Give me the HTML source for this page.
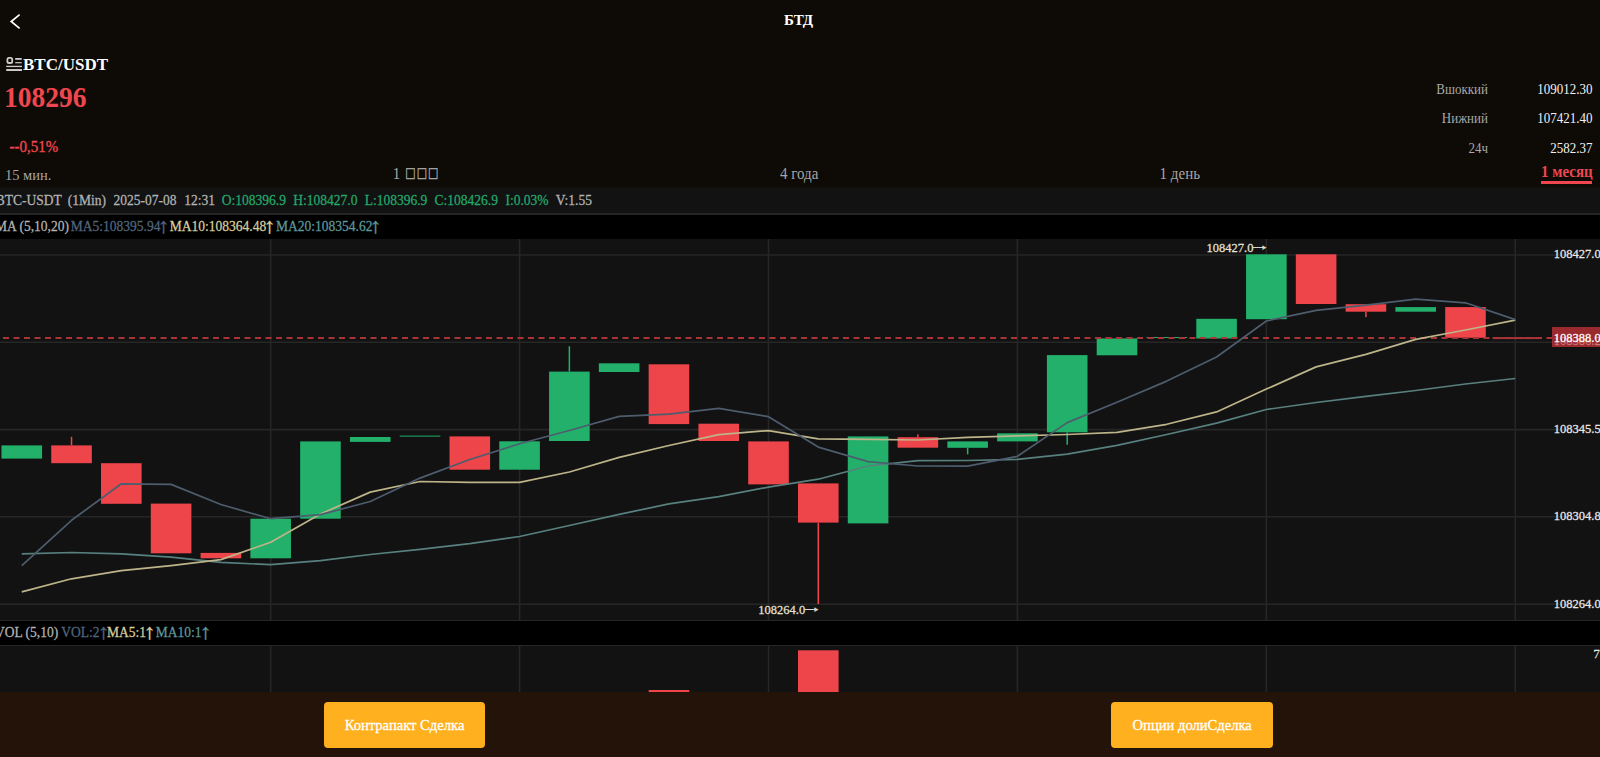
<!DOCTYPE html>
<html lang="ru">
<head>
<meta charset="utf-8">
<title>БТД</title>
<style>
html,body{margin:0;padding:0;}
body{width:1600px;height:757px;overflow:hidden;position:relative;background:#0e0a05;font-family:"Liberation Serif","Noto Serif CJK SC",serif;color:#fff;}
.a{position:absolute;white-space:pre;line-height:1;}
.ct{transform:scaleY(1.05);transform-origin:0 84%;-webkit-text-stroke:0.25px currentColor;}
.ct2{transform:scaleY(1.05);transform-origin:0 84%;}
.hdr{position:absolute;left:0;top:0;width:1600px;height:187px;background:#0e0a05;}
.chart{position:absolute;left:0;top:187px;width:1600px;height:505px;background:#121212;overflow:hidden;}
.info{position:absolute;left:0;top:187px;width:1600px;height:26px;background:#121212;}
.sep1{position:absolute;left:0;top:213px;width:1600px;height:2px;background:#252525;}
.marow{position:absolute;left:0;top:215px;width:1600px;height:24px;background:#000;}
.volrow{position:absolute;left:0;top:620.5px;width:1600px;height:24.5px;background:#000;}
.foot{position:absolute;left:0;top:692px;width:1600px;height:65px;background:#231309;}
.btn{position:absolute;top:702px;height:46px;background:#ffb01e;border-radius:4px;color:#fff;font-size:14.6px;line-height:46px;text-align:center;}
.bt{display:inline-block;line-height:1;transform:translateY(-0.7px) scaleY(1.07);-webkit-text-stroke:0.3px #fff;}
.g{color:#22a86a;}
.gr{color:#b3b3b3;}
.m5{color:#50667f;}
.m10{color:#d8cf9b;}
.m20{color:#5e9899;}
.lbl{color:#a8a8a8;font-size:13px;}
.val{color:#f2f2f2;font-size:13px;}
.tab{color:#a6a6a6;font-size:15px;}
.ax{color:#e8e8e8;font-size:12.5px;}
svg{position:absolute;left:0;top:0;}
.up{display:inline-block;transform:scale(1.75,1.5);}
.rt{display:inline-block;transform:translate(0.2px,-2px) scale(1.75,1.1);}
.tofu{position:absolute;font-size:13.7px;letter-spacing:3.2px;color:#a6a6a6;line-height:1;transform:scaleY(1.28);transform-origin:0 100%;white-space:pre;-webkit-text-stroke:0.35px #a6a6a6;}
</style>
</head>
<body>
<div class="hdr"></div>
<svg width="40" height="40" style="left:0;top:0"><polyline points="19.6,14.6 11.2,21.5 19.6,28.4" fill="none" stroke="#fff" stroke-width="1.7"/></svg>
<div class="a" style="left:784px;top:13.2px;font-size:15px;font-weight:bold;">БТД</div>

<svg width="24" height="20" style="left:0;top:52px">
<rect x="7.4" y="5.9" width="4.8" height="5.1" rx="1.6" fill="none" stroke="#cccccc" stroke-width="1.8"/>
<rect x="15.2" y="6" width="6.5" height="1.8" fill="#cccccc"/>
<rect x="15.2" y="10.1" width="6.5" height="1.2" fill="#cccccc"/>
<rect x="6.2" y="13.75" width="15.8" height="1.35" fill="#cccccc"/>
<rect x="6.2" y="17.05" width="15.8" height="1.95" fill="#cccccc"/>
</svg>
<div class="a" style="left:23px;top:56.3px;font-size:17px;font-weight:bold;">BTC/USDT</div>
<div class="a ct2" style="left:4px;top:84.3px;font-size:27.5px;font-weight:bold;color:#ef474f;">108296</div>
<div class="a ct2" style="left:9.5px;top:140.1px;font-size:15px;color:#ef474f;-webkit-text-stroke:0.3px #ef474f;">--0,51%</div>

<div class="a lbl ct2" style="right:112px;top:82.7px;">Вшоккий</div>
<div class="a val ct2" style="right:7.6px;top:82.7px;">109012.30</div>
<div class="a lbl ct2" style="right:112px;top:111.9px;">Нижний</div>
<div class="a val ct2" style="right:7.6px;top:111.9px;">107421.40</div>
<div class="a lbl ct2" style="right:112px;top:141.5px;">24ч</div>
<div class="a val ct2" style="right:7.6px;top:141.5px;">2582.37</div>

<div class="a tab ct2" style="left:4.9px;top:168.0px;font-size:14.5px;">15 мин.</div>
<div class="a tab ct2" style="left:392.8px;top:167.0px;">1</div>
<div class="tofu" style="left:406.2px;top:169.0px;">□□□</div>
<div class="a tab ct2" style="left:780px;top:167.0px;">4 года</div>
<div class="a tab ct2" style="left:1159.6px;top:167.0px;">1 день</div>
<div class="a ct2" style="left:1541px;top:165.4px;font-size:15px;font-weight:bold;color:#ef474f;">1 месяц</div>
<div class="a" style="left:1541.2px;top:181.2px;width:50.7px;height:3px;background:#ef474f;"></div>

<div class="chart"></div>
<div class="info"></div>
<div class="a" style="left:0;top:187px;width:1600px;height:1px;background:#100e0b;"></div>
<div class="sep1"></div>
<div class="marow"></div>

<svg width="1600" height="757" viewBox="0 0 1600 757">
<line x1="0" y1="255.0" x2="1600" y2="255.0" stroke="#262626" stroke-width="1.6"/>
<line x1="0" y1="342.3" x2="1600" y2="342.3" stroke="#262626" stroke-width="1.6"/>
<line x1="0" y1="429.6" x2="1600" y2="429.6" stroke="#262626" stroke-width="1.6"/>
<line x1="0" y1="516.8" x2="1600" y2="516.8" stroke="#262626" stroke-width="1.6"/>
<line x1="0" y1="604.2" x2="1600" y2="604.2" stroke="#262626" stroke-width="1.6"/>
<line x1="270.67" y1="239" x2="270.67" y2="620" stroke="#262626" stroke-width="1.6"/>
<line x1="519.59" y1="239" x2="519.59" y2="620" stroke="#262626" stroke-width="1.6"/>
<line x1="768.51" y1="239" x2="768.51" y2="620" stroke="#262626" stroke-width="1.6"/>
<line x1="1017.43" y1="239" x2="1017.43" y2="620" stroke="#262626" stroke-width="1.6"/>
<line x1="1266.35" y1="239" x2="1266.35" y2="620" stroke="#262626" stroke-width="1.6"/>
<line x1="1515.27" y1="239" x2="1515.27" y2="620" stroke="#262626" stroke-width="1.6"/>
<rect x="1.45" y="445.4" width="40.6" height="13.20" fill="#22b06b"/>
<rect x="70.78" y="436.8" width="1.5" height="8.60" fill="#ee454b"/>
<rect x="51.23" y="445.4" width="40.6" height="17.80" fill="#ee454b"/>
<rect x="101.02" y="463.2" width="40.6" height="40.60" fill="#ee454b"/>
<rect x="150.80" y="503.6" width="40.6" height="49.70" fill="#ee454b"/>
<rect x="200.59" y="552.9" width="40.6" height="5.40" fill="#ee454b"/>
<rect x="250.37" y="518.7" width="40.6" height="39.60" fill="#22b06b"/>
<rect x="300.15" y="441.4" width="40.6" height="77.30" fill="#22b06b"/>
<rect x="349.94" y="437.0" width="40.6" height="4.90" fill="#22b06b"/>
<rect x="399.72" y="435.6" width="40.6" height="1.00" fill="#22b06b"/>
<rect x="449.51" y="436.4" width="40.6" height="33.30" fill="#ee454b"/>
<rect x="499.29" y="441.3" width="40.6" height="28.40" fill="#22b06b"/>
<rect x="568.62" y="346.3" width="1.5" height="25.30" fill="#22b06b"/>
<rect x="549.07" y="371.6" width="40.6" height="69.40" fill="#22b06b"/>
<rect x="598.86" y="363.3" width="40.6" height="8.70" fill="#22b06b"/>
<rect x="648.64" y="364.3" width="40.6" height="59.80" fill="#ee454b"/>
<rect x="698.43" y="423.7" width="40.6" height="17.30" fill="#ee454b"/>
<rect x="748.21" y="441.4" width="40.6" height="43.00" fill="#ee454b"/>
<rect x="817.54" y="522.6" width="1.5" height="81.40" fill="#ee454b"/>
<rect x="797.99" y="483.4" width="40.6" height="39.20" fill="#ee454b"/>
<rect x="847.78" y="436.4" width="40.6" height="87.00" fill="#22b06b"/>
<rect x="917.11" y="434.3" width="1.5" height="2.90" fill="#ee454b"/>
<rect x="897.56" y="437.2" width="40.6" height="10.50" fill="#ee454b"/>
<rect x="966.90" y="447.8" width="1.5" height="6.50" fill="#22b06b"/>
<rect x="947.35" y="441.4" width="40.6" height="6.40" fill="#22b06b"/>
<rect x="997.13" y="433.3" width="40.6" height="8.10" fill="#22b06b"/>
<rect x="1066.46" y="432.3" width="1.5" height="12.50" fill="#22b06b"/>
<rect x="1046.91" y="355.1" width="40.6" height="77.20" fill="#22b06b"/>
<rect x="1096.70" y="338.4" width="40.6" height="16.90" fill="#22b06b"/>
<rect x="1146.48" y="337.0" width="40.6" height="1.00" fill="#22b06b"/>
<rect x="1196.27" y="318.8" width="40.6" height="19.70" fill="#22b06b"/>
<rect x="1246.05" y="254.3" width="40.6" height="64.90" fill="#22b06b"/>
<rect x="1295.83" y="254.3" width="40.6" height="49.70" fill="#ee454b"/>
<rect x="1365.17" y="311.7" width="1.5" height="5.50" fill="#ee454b"/>
<rect x="1345.62" y="304.2" width="40.6" height="7.50" fill="#ee454b"/>
<rect x="1395.40" y="307.1" width="40.6" height="4.60" fill="#22b06b"/>
<rect x="1445.19" y="307.1" width="40.6" height="30.70" fill="#ee454b"/>
<rect x="1492.5" y="337.1" width="47.5" height="2.00" fill="#a93437"/>
<line x1="0" y1="338.1" x2="1552" y2="338.1" stroke="#a93437" stroke-width="2" stroke-dasharray="6 4.5" stroke-dashoffset="-3"/>
<polyline points="21.75,553.8 71.53,552.5 121.32,553.8 171.10,557.2 220.89,562.4 270.67,564.7 320.45,560.6 370.24,554.5 420.02,549.3 469.81,543.7 519.59,536.5 569.37,525.5 619.16,514.4 668.94,503.9 718.73,496.6 768.51,487.1 818.29,479.2 868.08,466.0 917.86,460.6 967.65,460.5 1017.43,459.3 1067.21,454.1 1117.00,445.4 1166.78,434.5 1216.57,423.1 1266.35,409.5 1316.13,402.5 1365.92,396.4 1415.70,390.5 1465.49,384.0 1515.27,378.5" fill="none" stroke="#57807f" stroke-width="1.7" stroke-linejoin="round"/>
<polyline points="21.75,591.9 71.53,578.8 121.32,570.7 171.10,565.6 220.89,559.6 270.67,542.2 320.45,514.0 370.24,492.1 420.02,481.5 469.81,482.4 519.59,482.4 569.37,472.0 619.16,457.4 668.94,445.5 718.73,434.6 768.51,430.6 818.29,438.9 868.08,439.4 917.86,440.0 967.65,437.3 1017.43,435.9 1067.21,434.5 1117.00,432.3 1166.78,424.3 1216.57,411.9 1266.35,389.1 1316.13,366.9 1365.92,354.4 1415.70,339.4 1465.49,330.0 1515.27,320.2" fill="none" stroke="#bdb48a" stroke-width="1.7" stroke-linejoin="round"/>
<polyline points="21.75,565.6 71.53,520.3 121.32,483.8 171.10,484.4 220.89,504.5 270.67,518.7 320.45,514.6 370.24,501.5 420.02,478.1 469.81,459.5 519.59,443.8 569.37,430.5 619.16,416.4 668.94,414.2 718.73,408.4 768.51,416.7 818.29,447.1 868.08,461.6 917.86,466.0 967.65,466.2 1017.43,456.3 1067.21,422.6 1117.00,402.3 1166.78,381.1 1216.57,357.0 1266.35,321.0 1316.13,310.4 1365.92,305.2 1415.70,299.2 1465.49,302.8 1515.27,319.6" fill="none" stroke="#4d5d6e" stroke-width="1.7" stroke-linejoin="round"/>
<line x1="270.67" y1="646" x2="270.67" y2="692" stroke="#262626" stroke-width="1.6"/>
<line x1="519.59" y1="646" x2="519.59" y2="692" stroke="#262626" stroke-width="1.6"/>
<line x1="768.51" y1="646" x2="768.51" y2="692" stroke="#262626" stroke-width="1.6"/>
<line x1="1017.43" y1="646" x2="1017.43" y2="692" stroke="#262626" stroke-width="1.6"/>
<line x1="1266.35" y1="646" x2="1266.35" y2="692" stroke="#262626" stroke-width="1.6"/>
<line x1="1515.27" y1="646" x2="1515.27" y2="692" stroke="#262626" stroke-width="1.6"/>
<rect x="797.99" y="650.3" width="40.6" height="41.7" fill="#ee454b"/>
<rect x="648.64" y="690" width="40.6" height="2" fill="#ee454b"/>
</svg>
<div class="volrow"></div>
<div class="a" style="left:0;top:619.5px;width:1600px;height:1.5px;background:#262626;"></div>
<div class="a" style="left:0;top:644.8px;width:1600px;height:1.5px;background:#262626;"></div>

<!-- info row -->
<div class="a gr ct" style="font-size:13.5px;left:-4.3px;top:193.6px;">BTC-USDT</div>
<div class="a gr ct" style="font-size:13.5px;left:67.8px;top:193.6px;">(1Min)</div>
<div class="a gr ct" style="font-size:13.5px;left:113.5px;top:193.6px;">2025-07-08</div>
<div class="a gr ct" style="font-size:13.5px;left:184.2px;top:193.6px;">12:31</div>
<div class="a g ct" style="font-size:13.5px;left:221.8px;top:193.6px;">O:108396.9</div>
<div class="a g ct" style="font-size:13.5px;left:293.3px;top:193.6px;">H:108427.0</div>
<div class="a g ct" style="font-size:13.5px;left:364.7px;top:193.6px;">L:108396.9</div>
<div class="a g ct" style="font-size:13.5px;left:434.6px;top:193.6px;">C:108426.9</div>
<div class="a g ct" style="font-size:13.5px;left:505.5px;top:193.6px;">I:0.03%</div>
<div class="a gr ct" style="font-size:13.5px;left:555.8px;top:193.6px;">V:1.55</div>

<!-- MA row -->
<div class="a gr ct" style="font-size:13.5px;left:-5px;top:220.1px;">MA (5,10,20)</div>
<div class="a m5 ct" style="font-size:13.5px;left:70.8px;top:220.1px;">MA5:108395.94<span class="up">↑</span></div>
<div class="a m10 ct" style="font-size:13.5px;left:169.8px;top:220.1px;">MA10:108364.48<span class="up">↑</span></div>
<div class="a m20 ct" style="font-size:13.5px;left:276px;top:220.1px;">MA20:108354.62<span class="up">↑</span></div>

<!-- VOL row -->
<div class="a gr ct" style="font-size:13.5px;left:-5px;top:626.4px;">VOL (5,10)</div>
<div class="a m5 ct" style="font-size:13.5px;left:61.3px;top:626.4px;">VOL:2<span class="up">↑</span></div>
<div class="a m10 ct" style="font-size:13.5px;left:107px;top:626.4px;">MA5:1<span class="up">↑</span></div>
<div class="a m20 ct" style="font-size:13.5px;left:155.8px;top:626.4px;">MA10:1<span class="up">↑</span></div>

<!-- axis labels -->
<div class="a ax ct" style="left:1553.8px;top:247.7px;">108427.0</div>
<div class="a ax ct" style="left:1553.8px;top:422.8px;">108345.5</div>
<div class="a ax ct" style="left:1553.8px;top:510.0px;">108304.8</div>
<div class="a ax ct" style="left:1553.8px;top:598.0px;">108264.0</div>
<div class="a ax ct" style="left:1593.5px;top:647.7px;">7.00</div>
<div class="a" style="left:1552px;top:327.3px;width:48px;height:19.5px;background:#9b2a2e;"></div>
<div class="a ax ct" style="left:1553.8px;top:335.2px;color:rgba(255,190,190,0.42);">108386.2</div>
<div class="a ax ct" style="left:1553.8px;top:332.0px;color:#fff;">108388.0</div>

<div class="a ax ct" style="left:1206.6px;top:241.5px;color:#e6e2d8;">108427.0<span class="rt">→</span></div>
<div class="a ax ct" style="left:758.3px;top:603.9px;color:#e6e2d8;">108264.0<span class="rt">→</span></div>

<div class="foot"></div>
<div class="btn" style="left:324px;width:161px;"><span class="bt">Контрапакт Сделка</span></div>
<div class="btn" style="left:1111.3px;width:161.8px;"><span class="bt">Опции долиСделка</span></div>
</body>
</html>
